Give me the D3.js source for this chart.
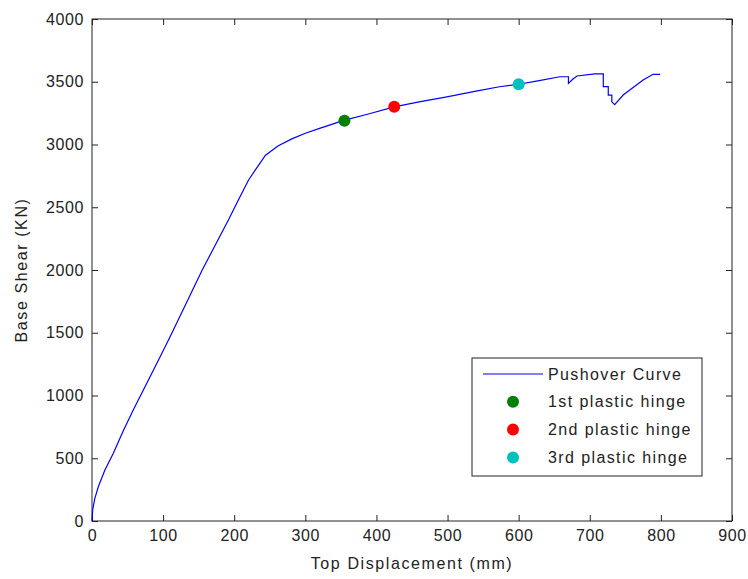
<!DOCTYPE html>
<html>
<head>
<meta charset="utf-8">
<script src="https://cdn.jsdelivr.net/npm/d3@7"></script>
<style>
  body { margin: 0; background: #fff; }
  svg { display: block; font-family: "Liberation Sans", Arial, sans-serif; }
</style>
</head>
<body>
<svg width="748" height="579"></svg>
<script>

// pushover curve: [top displacement (mm), base shear (kN)]
var curve = [
	[0,0],[1,90],[4,180],[9,275],[18,405],[30,540],[44,720],[58,885],[79,1120],
	[96,1310],[110,1470],[121,1600],[155,2000],[192,2400],[206,2560],[220,2715],
	[230,2800],[244,2915],[262,2990],[281,3045],[300,3090],[320,3128],[353,3190],
	[390,3245],[425,3300],[460,3340],[499,3380],[540,3425],[573,3460],[600,3480],
	[625,3505],[658,3540],[670,3540],[670,3487],[676,3520],[682,3546],[707,3562],
	[719,3562],[719,3461],[726,3461],[726,3394],[731,3394],[731,3340],[735,3318],
	[747,3394],[760,3450],[775,3514],[789,3559],[799,3559]
];

// hinge points
var hinges = [
	{ name: "1st plastic hinge", x: 355, y: 3190, color: "#008000" },
	{ name: "2nd plastic hinge", x: 425, y: 3300, color: "#ff0000" },
	{ name: "3rd plastic hinge", x: 600, y: 3480, color: "#00bfbf" }
];

var xTicks = [0,100,200,300,400,500,600,700,800,900];
var yTicks = [0,500,1000,1500,2000,2500,3000,3500,4000];

var mLeft = 92, mTop = 19, w = 640, h = 502;

var svg = d3.select('svg');
var g = svg.append('g').attr('transform', 'translate(' + mLeft + ',' + mTop + ')');

var x = d3.scaleLinear().domain([0, 900]).range([0, w]);
var y = d3.scaleLinear().domain([0, 4000]).range([h, 0]);

//axes with inward ticks on all four sides
function style_axis(sel) {
	sel.select('.domain').remove();
	sel.selectAll('line').attr('stroke', '#222');
	sel.selectAll('text').attr('fill', '#222').style('font-size', '16px').style('letter-spacing', '0.6px');
}

g.append('g').attr('transform', 'translate(0,' + h + ')')
	.call(d3.axisBottom(x).tickValues(xTicks).tickFormat(d3.format('d')).tickSizeInner(-6).tickSizeOuter(0).tickPadding(9))
	.call(style_axis);
g.append('g')
	.call(d3.axisTop(x).tickValues(xTicks).tickSizeInner(-6).tickSizeOuter(0).tickFormat(''))
	.call(style_axis);
g.append('g')
	.call(d3.axisLeft(y).tickValues(yTicks).tickFormat(d3.format('d')).tickSizeInner(-6).tickSizeOuter(0).tickPadding(8))
	.call(style_axis);
g.append('g').attr('transform', 'translate(' + w + ',0)')
	.call(d3.axisRight(y).tickValues(yTicks).tickSizeInner(-6).tickSizeOuter(0).tickFormat(''))
	.call(style_axis);

g.append('rect')
	.attr('width', w).attr('height', h)
	.attr('fill', 'none').attr('stroke', '#222').attr('stroke-width', 1);

//the curve
var line = d3.line().x(function(d) { return x(d[0]); }).y(function(d) { return y(d[1]); });
g.append('path')
	.datum(curve)
	.attr('d', line)
	.attr('fill', 'none')
	.attr('stroke', '#0000ff')
	.attr('stroke-width', 1.2);

g.selectAll('circle.hinge')
	.data(hinges)
	.enter().append('circle')
	.attr('class', 'hinge')
	.attr('cx', function(d) { return x(d.x); })
	.attr('cy', function(d) { return y(d.y); })
	.attr('r', 6)
	.attr('fill', function(d) { return d.color; });

//axis titles
svg.append('text')
	.attr('x', mLeft + w / 2).attr('y', 569)
	.attr('text-anchor', 'middle')
	.style('font-size', '16px').style('letter-spacing', '1.6px').attr('fill', '#222')
	.text('Top Displacement (mm)');

svg.append('text')
	.attr('transform', 'translate(27,' + (mTop + h / 2) + ') rotate(-90)')
	.attr('text-anchor', 'middle')
	.style('font-size', '16px').style('letter-spacing', '1.6px').attr('fill', '#222')
	.text('Base Shear (KN)');

//legend
var lg = svg.append('g').attr('transform', 'translate(472,358)');
lg.append('rect')
	.attr('width', 230).attr('height', 118)
	.attr('fill', '#fff').attr('stroke', '#222').attr('stroke-width', 1);

var rows = [{ name: 'Pushover Curve', line: true }].concat(hinges);
var row = lg.selectAll('g.row')
	.data(rows)
	.enter().append('g')
	.attr('class', 'row')
	.attr('transform', function(d, i) { return 'translate(0,' + (16 + i * 27.8) + ')'; });

row.filter(function(d) { return d.line; })
	.append('line')
	.attr('x1', 11).attr('x2', 71)
	.attr('stroke', '#0000ff').attr('stroke-width', 1.2);

row.filter(function(d) { return !d.line; })
	.append('circle')
	.attr('cx', 41).attr('r', 6)
	.attr('fill', function(d) { return d.color; });

row.append('text')
	.attr('x', 76).attr('dy', '0.35em')
	.style('font-size', '16px').style('letter-spacing', '1.4px').attr('fill', '#222')
	.text(function(d) { return d.name; });

</script>
</body>
</html>
